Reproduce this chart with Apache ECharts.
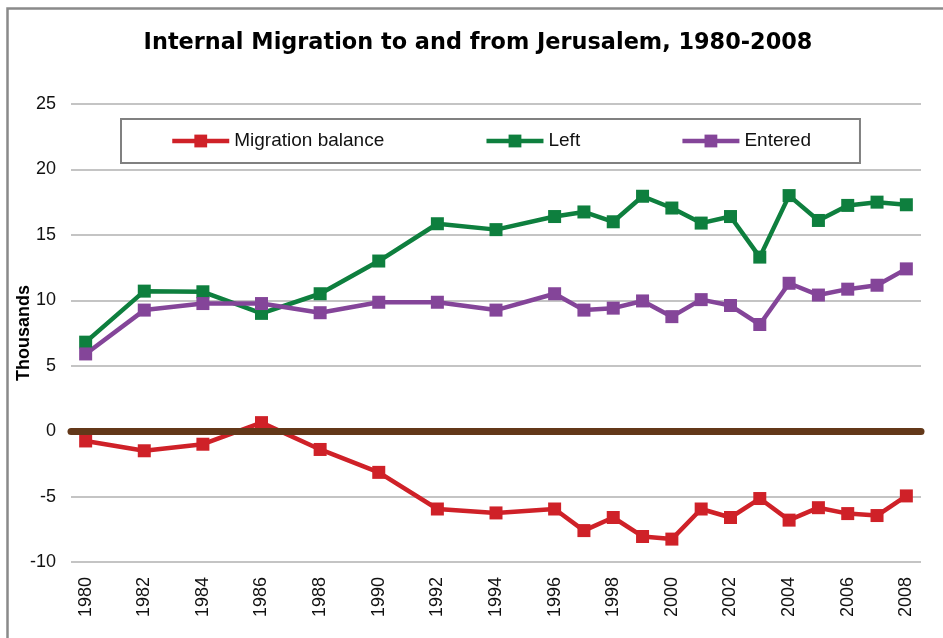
<!DOCTYPE html>
<html>
<head>
    <meta charset="utf-8">
    <title>Internal Migration to and from Jerusalem</title>
    <script src="https://cdn.jsdelivr.net/npm/echarts@6/dist/echarts.min.js"></script>
    <style>
        html, body { margin: 0; padding: 0; background: #fff; }
        #chart { width: 943px; height: 638px; }
    </style>
</head>
<body>
    <div id="chart"></div>
    <script type="text/javascript">
        // every year on the axis, odd years before 1996 have no data
        var years = ['1980','1981','1982','1983','1984','1985','1986','1987','1988','1989',
                     '1990','1991','1992','1993','1994','1995','1996','1997','1998','1999',
                     '2000','2001','2002','2003','2004','2005','2006','2007','2008'];
        var balance = [-0.75, null, -1.5, null, -1.0, null, 0.65, null, -1.4, null,
                       -3.15, null, -5.95, null, -6.25, null, -5.95, -7.6, -6.6, -8.05,
                       -8.25, -5.95, -6.6, -5.15, -6.8, -5.85, -6.3, -6.45, -4.95];
        var left = [6.8, null, 10.7, null, 10.65, null, 9.0, null, 10.5, null,
                    13.0, null, 15.85, null, 15.4, null, 16.4, 16.75, 16.0, 17.95,
                    17.05, 15.9, 16.4, 13.3, 18.0, 16.1, 17.25, 17.5, 17.3];
        var entered = [5.9, null, 9.25, null, 9.75, null, 9.75, null, 9.05, null,
                       9.85, null, 9.85, null, 9.25, null, 10.5, 9.25, 9.4, 9.95,
                       8.75, 10.05, 9.6, 8.15, 11.3, 10.4, 10.85, 11.15, 12.4];
        var seriesNames = ['Migration balance', 'Left', 'Entered'];

        var chart = echarts.init(document.getElementById('chart'));

        function lineSeries(name, data, color) {
            return {
                name: name,
                type: 'line',
                data: data,
                connectNulls: true,
                symbol: 'rect',
                symbolSize: 13,
                z: 3,
                itemStyle: { color: color },
                lineStyle: { color: color, width: 4.5 }
            };
        }

        var option = {
            animation: false,
            textStyle: { fontFamily: '"Liberation Sans", Arial, sans-serif' },
            graphic: [{
                type: 'rect',
                shape: { x: 7.5, y: 8.5, width: 1000, height: 1000 },
                style: { fill: null, stroke: '#8a8a8a', lineWidth: 2.5 },
                silent: true
            }],
            title: {
                text: 'Internal Migration to and from Jerusalem, 1980-2008',
                left: 473,
                textAlign: 'center',
                top: 27,
                textStyle: {
                    fontFamily: '"DejaVu Sans", sans-serif',
                    fontWeight: 'bold',
                    fontSize: 22.4,
                    color: '#000'
                }
            },
            legend: {
                data: seriesNames,
                left: 121,
                top: 119,
                padding: [12, 49],
                itemGap: 100,
                itemWidth: 57,
                itemHeight: 16,
                lineStyle: { width: 4.5 },
                borderColor: '#808080',
                borderWidth: 2,
                textStyle: { fontSize: 19, color: '#111', lineHeight: 20 }
            },
            grid: { left: 71, right: 22, top: 104, bottom: 76, outerBoundsMode: 'none' },
            xAxis: {
                type: 'category',
                data: years,
                boundaryGap: true,
                axisLine: { show: false, onZero: false },
                axisTick: { show: false },
                axisLabel: {
                    interval: 1,
                    rotate: 90,
                    margin: 15,
                    fontSize: 18,
                    color: '#111'
                },
                splitLine: { show: false }
            },
            yAxis: {
                type: 'value',
                min: -10,
                max: 25,
                interval: 5,
                name: 'Thousands',
                nameLocation: 'middle',
                nameGap: 38,
                nameMoveOverlap: false,
                nameTextStyle: { fontSize: 18, fontWeight: 'bold', color: '#000' },
                axisLine: { show: false },
                axisTick: { show: false },
                axisLabel: { fontSize: 18, color: '#111', margin: 15 },
                splitLine: { lineStyle: { color: '#c4c4c4', width: 2 } }
            },
            series: [
                {
                    name: 'zero',
                    type: 'line',
                    data: [],
                    z: 1,
                    silent: true,
                    markLine: {
                        silent: true,
                        symbol: 'none',
                        label: { show: false },
                        lineStyle: { color: '#633819', width: 7, type: 'solid', cap: 'round' },
                        data: [{ yAxis: 0 }]
                    }
                },
                lineSeries('Migration balance', balance, '#cf2128'),
                lineSeries('Left', left, '#0e7f3e'),
                lineSeries('Entered', entered, '#844599')
            ]
        };
        chart.setOption(option);
    </script>
</body>
</html>
